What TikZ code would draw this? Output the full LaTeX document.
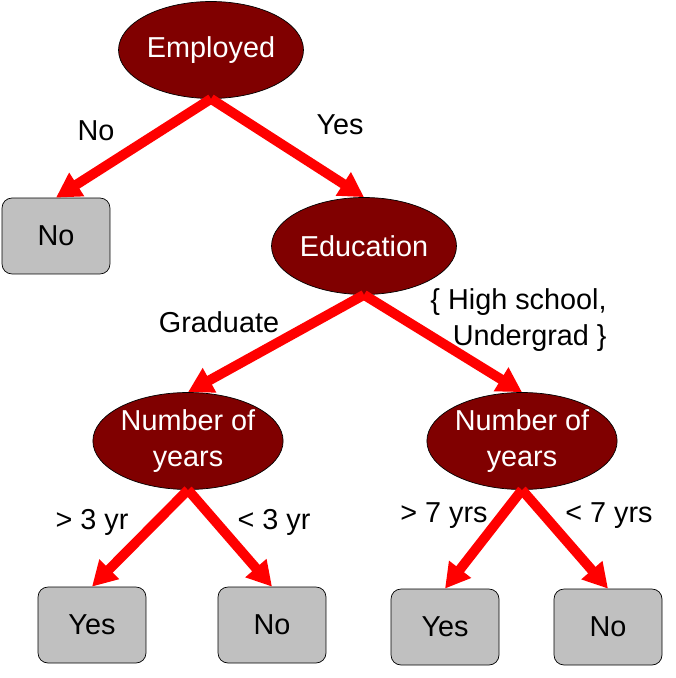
\documentclass[tikz,border=0pt]{standalone}
\usepackage{fontspec}
\setmainfont{Liberation Sans}
\usetikzlibrary{shapes.geometric,arrows.meta}
\definecolor{maroon}{HTML}{800000}
\definecolor{leafgray}{HTML}{C0C0C0}
\tikzset{
	test/.style={ellipse, draw=black, fill=maroon, text=white, minimum width=3.7cm, minimum height=1.94cm, inner sep=0pt, align=center},
	leaf/.style={rectangle, draw=black, fill=leafgray, rounded corners=0.2cm, minimum width=2.16cm, minimum height=1.52cm, inner sep=0pt},
	branch/.style={draw=red, line width=5.6pt, -{Triangle[length=14pt, width=15pt]}},
	cond/.style={align=center, inner sep=0pt}
}

\begin{document}
\begin{tikzpicture}[x=0.02cm, y=-0.02cm, font=\fontsize{16.4}{20.4}\selectfont]
			%%%%% START %%%%%
			\useasboundingbox (0, 0) rectangle (675, 678);
			
			\node[test] (employed) at (211, 50) {Employed};
			\node[leaf] (noA) at (56, 236) {No};
			\node[test] (education) at (364, 246) {Education};
			
			\node[test] (yearsL) at (188, 441) {Number of\\years};
			\node[test] (yearsR) at (522, 441) {Number of\\years};
			
			\node[leaf] (yesB) at (92, 625) {Yes};
			\node[leaf] (noB) at (272, 625) {No};
			\node[leaf] (yesC) at (445, 627) {Yes};
			\node[leaf] (noC) at (608, 627) {No};
			
			\draw[branch] (employed.south) -- (noA.north);
			\draw[branch] (employed.south) -- (education.north);
			\draw[branch] (education.south) -- (yearsL.north);
			\draw[branch] (education.south) -- (yearsR.north);
			\draw[branch] (yearsL.south) -- (yesB.north);
			\draw[branch] (yearsL.south) -- (noB.north);
			\draw[branch] (yearsR.south) -- (yesC.north);
			\draw[branch] (yearsR.south) -- (noC.north);
			
			\node[cond] (lblNo) at (96, 131) {No};
			\node[cond] (lblYes) at (340, 125) {Yes};
			\node[cond] (lblGrad) at (219, 322) {Graduate};
			\node[cond, align=right, anchor=east] (lblHigh) at (607, 320) {\{ High school,\\Undergrad \}};
			\node[cond] (lblGt3) at (92, 522) {> 3 yr};
			\node[cond] (lblLt3) at (274, 522) {< 3 yr};
			\node[cond] (lblGt7) at (444, 516) {> 7 yrs};
			\node[cond] (lblLt7) at (609, 516) {< 7 yrs};
			
			%%%%% END %%%%%
\end{tikzpicture}
\end{document}
